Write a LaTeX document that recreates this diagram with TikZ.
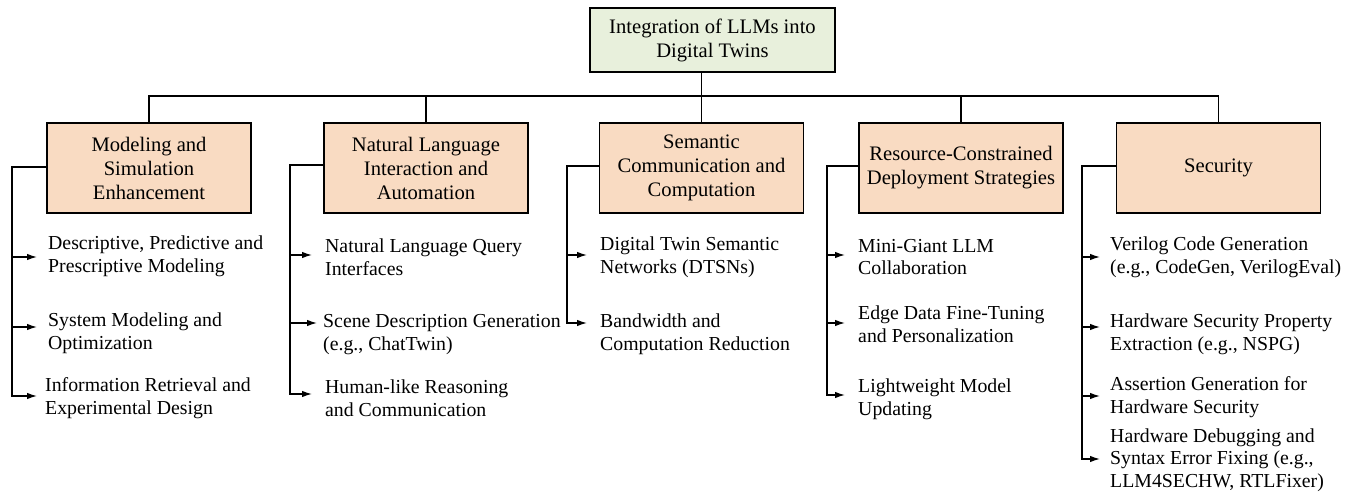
\documentclass[tikz,border=0pt]{standalone}
\usepackage{fontspec}
\setmainfont{Liberation Serif}
\usetikzlibrary{arrows.meta}
\definecolor{peach}{HTML}{F9DBC2}
\definecolor{palegreen}{HTML}{E8F0DC}
\begin{document}
\begin{tikzpicture}[x=1pt,y=-1pt,
 catbox/.style={draw=black, line width=1.8pt, fill=peach, minimum width=204pt, minimum height=90pt, inner sep=0pt, align=center, font=\fontsize{20.6}{24}\selectfont},
 rootbox/.style={catbox, fill=palegreen, minimum width=245pt, minimum height=64pt},
 item/.style={anchor=west, inner sep=0pt, align=left, font=\fontsize{19.8}{22.7}\selectfont},
 conn/.style={line width=1.3pt, draw=black},
 arr/.style={conn, -{Latex[length=10pt,width=6.5pt]}}]
\useasboundingbox (0,0) rectangle (1358,500);

% main nodes
\node[rootbox] (root) at (712.5,40) {Integration of LLMs into\\Digital Twins};
\node[catbox] (b1) at (149,168) {Modeling and\\Simulation\\Enhancement};
\node[catbox] (b2) at (426,168) {Natural Language\\Interaction and\\Automation};
\node[catbox] (b3) at (701.5,168) {Semantic\\Communication and\\Computation};
\node[catbox] (b4) at (961,168) {Resource-Constrained\\Deployment Strategies};
\node[catbox] (b5) at (1218.5,168) {Security};

% tree connectors
\coordinate (bus) at (0,96);
\draw[conn] (root.south -| b3.north) -- (b3.north);
\draw[conn] (b1.north) -- (b1.north |- bus) -- (b5.north |- bus) -- (b5.north);
\draw[conn] (b2.north |- bus) -- (b2.north);
\draw[conn] (b4.north |- bus) -- (b4.north);

% column 1
\node[item] (t11) at (48,256.5) {Descriptive, Predictive and\\Prescriptive Modeling};
\node[item] (t12) at (48,333) {System Modeling and\\Optimization};
\node[item] (t13) at (45,398) {Information Retrieval and\\Experimental Design};
\coordinate (k1) at (12,167);
\coordinate (a11) at (12,257);
\coordinate (a12) at (12,327);
\coordinate (a13) at (12,396);
\draw[arr, shorten >=8pt] (b1.west |- k1) -- (k1) -- (a13) -- (a13 -| t13.west);
\draw[arr, shorten >=11pt] (a11) -- (a11 -| t11.west);
\draw[arr, shorten >=11pt] (a12) -- (a12 -| t12.west);

% column 2
\node[item] (t21) at (325,257) {Natural Language Query\\Interfaces};
\node[item] (t22) at (323,334.5) {Scene Description Generation\\(e.g., ChatTwin)};
\node[item] (t23) at (325,398) {Human-like Reasoning\\and Communication};
\coordinate (k2) at (290,165);
\coordinate (a21) at (290,255);
\coordinate (a22) at (290,323);
\coordinate (a23) at (290,394);
\draw[arr, shorten >=13pt] (b2.west |- k2) -- (k2) -- (a23) -- (a23 -| t23.west);
\draw[arr, shorten >=13pt] (a21) -- (a21 -| t21.west);
\draw[arr, shorten >=6pt] (a22) -- (a22 -| t22.west);

% column 3
\node[item] (t31) at (600,257) {Digital Twin Semantic\\Networks (DTSNs)};
\node[item] (t32) at (600,334) {Bandwidth and\\Computation Reduction};
\coordinate (k3) at (567,166);
\coordinate (a31) at (567,255);
\coordinate (a32) at (567,323);
\draw[arr, shorten >=13pt] (b3.west |- k3) -- (k3) -- (a32) -- (a32 -| t32.west);
\draw[arr, shorten >=13pt] (a31) -- (a31 -| t31.west);

% column 4
\node[item] (t41) at (858,257) {Mini-Giant LLM\\Collaboration};
\node[item] (t42) at (858,324.5) {Edge Data Fine-Tuning\\and Personalization};
\node[item] (t43) at (858,399) {Lightweight Model\\Updating};
\coordinate (k4) at (827,166);
\coordinate (a41) at (827,255);
\coordinate (a42) at (827,323);
\coordinate (a43) at (827,395);
\draw[arr, shorten >=13pt] (b4.west |- k4) -- (k4) -- (a43) -- (a43 -| t43.west);
\draw[arr, shorten >=13pt] (a41) -- (a41 -| t41.west);
\draw[arr, shorten >=13pt] (a42) -- (a42 -| t42.west);

% column 5
\node[item] (t51) at (1110,257) {Verilog Code Generation\\(e.g., CodeGen, VerilogEval)};
\node[item] (t52) at (1110,334) {Hardware Security Property\\Extraction (e.g., NSPG)};
\node[item] (t53) at (1110,397) {Assertion Generation for\\Hardware Security};
\node[item] (t54) at (1110,460) {Hardware Debugging and\\Syntax Error Fixing (e.g.,\\LLM4SECHW, RTLFixer)};
\coordinate (k5) at (1082,166);
\coordinate (a51) at (1082,257);
\coordinate (a52) at (1082,327);
\coordinate (a53) at (1082,396);
\coordinate (a54) at (1082,459);
\draw[arr, shorten >=10pt] (b5.west |- k5) -- (k5) -- (a54) -- (a54 -| t54.west);
\draw[arr, shorten >=10pt] (a51) -- (a51 -| t51.west);
\draw[arr, shorten >=10pt] (a52) -- (a52 -| t52.west);
\draw[arr, shorten >=10pt] (a53) -- (a53 -| t53.west);
\end{tikzpicture}
\end{document}
